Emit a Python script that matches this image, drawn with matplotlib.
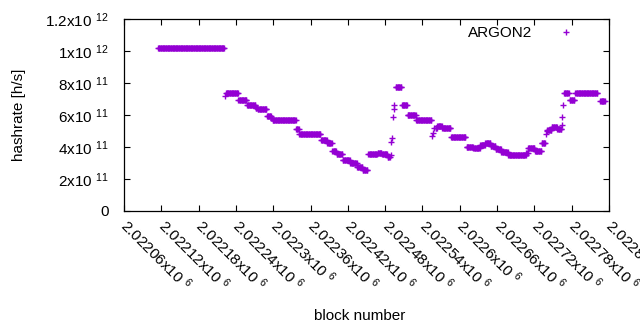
import numpy as np
import matplotlib
matplotlib.use('Agg')
import matplotlib.pyplot as plt
from matplotlib.transforms import ScaledTranslation

plt.rcParams['font.family'] = ['Liberation Sans', 'DejaVu Sans']
plt.rcParams['mathtext.fontset'] = 'custom'
plt.rcParams['mathtext.rm'] = 'Liberation Sans'
plt.rcParams['mathtext.it'] = 'Liberation Sans'
plt.rcParams['mathtext.bf'] = 'Liberation Sans'
plt.rcParams['mathtext.default'] = 'regular'

# Runs of blocks with a constant hashrate: first block, last block, hashrate [h/s]
seg_start = [2022115, 2022224, 2022244, 2022258, 2022272, 2022275, 2022290, 2022297,
             2022299, 2022337, 2022342, 2022377, 2022387, 2022395, 2022402, 2022412,
             2022424, 2022435, 2022444, 2022453, 2022468, 2022475, 2022484, 2022497,
             2022507, 2022516, 2022530, 2022561, 2022564, 2022572, 2022586, 2022611,
             2022622, 2022633, 2022641, 2022650, 2022658, 2022667, 2022678, 2022707,
             2022710, 2022721, 2022732, 2022741, 2022748, 2022757, 2022768, 2022777,
             2022786, 2022826]
seg_end = [2022221, 2022243, 2022257, 2022271, 2022274, 2022289, 2022296, 2022298,
           2022336, 2022341, 2022376, 2022386, 2022394, 2022401, 2022411, 2022423,
           2022434, 2022443, 2022451, 2022467, 2022474, 2022483, 2022487, 2022506,
           2022515, 2022529, 2022554, 2022563, 2022571, 2022585, 2022609, 2022621,
           2022632, 2022640, 2022649, 2022657, 2022666, 2022677, 2022706, 2022709,
           2022720, 2022731, 2022737, 2022747, 2022756, 2022763, 2022775, 2022784,
           2022821, 2022833]
seg_value = [1.016e12, 0.735e12, 0.694e12, 0.660e12, 0.646e12, 0.636e12, 0.594e12, 0.579e12,
             0.567e12, 0.512e12, 0.479e12, 0.444e12, 0.425e12, 0.377e12, 0.357e12, 0.318e12,
             0.298e12, 0.278e12, 0.259e12, 0.354e12, 0.364e12, 0.354e12, 0.335e12, 0.773e12,
             0.660e12, 0.600e12, 0.567e12, 0.519e12, 0.531e12, 0.519e12, 0.4625e12, 0.400e12,
             0.395e12, 0.413e12, 0.427e12, 0.405e12, 0.387e12, 0.367e12, 0.348e12, 0.360e12,
             0.396e12, 0.377e12, 0.425e12, 0.506e12, 0.522e12, 0.510e12, 0.735e12, 0.694e12,
             0.735e12, 0.6875e12]

# Isolated blocks (transitions)
pt_block = [2022223, 2022489, 2022490, 2022491, 2022493, 2022494, 2022495,
            2022556, 2022557, 2022559, 2022738, 2022740, 2022764, 2022765, 2022766]
pt_value = [0.717e12, 0.350e12, 0.433e12, 0.455e12, 0.586e12, 0.636e12, 0.662e12,
            0.469e12, 0.489e12, 0.517e12, 0.480e12, 0.498e12, 0.5375e12, 0.590e12, 0.660e12]

xticks = [2022060, 2022120, 2022180, 2022240, 2022300, 2022360, 2022420,
          2022480, 2022540, 2022600, 2022660, 2022720, 2022780, 2022840]
xtick_labels = ['2.02206', '2.02212', '2.02218', '2.02224', '2.0223', '2.02236', '2.02242',
                '2.02248', '2.02254', '2.0226', '2.02266', '2.02272', '2.02278', '2.02284']
yticks = [0, 2e11, 4e11, 6e11, 8e11, 1e12, 1.2e12]
ytick_mant = ['0', '2', '4', '6', '8', '1', '1.2']
ytick_exp = ['', '11', '11', '11', '11', '12', '12']

blocks = np.concatenate([np.arange(s, e + 1) for s, e in zip(seg_start, seg_end)]
                        + [np.array(pt_block)])
values = np.concatenate([np.full(e - s + 1, v) for s, e, v in zip(seg_start, seg_end, seg_value)]
                        + [np.array(pt_value)])

W, H = 640, 330
fig = plt.figure(figsize=(W / 100, H / 100), dpi=100)
ax = fig.add_axes([124 / W, (H - 211) / H, 485 / W, 192 / H])

color = '#9400d3'
ax.plot(blocks, values, linestyle='none', marker='+', markersize=5, markeredgewidth=1.0,
        color=color, label='ARGON2')

ax.set_xlim(2022060, 2022840)
ax.set_ylim(0, 1.2e12)

fs = 11
ax.set_yticks(yticks)
ax.set_yticklabels([m if not e else f'{m}x10 $^{{{e}}}$' for m, e in zip(ytick_mant, ytick_exp)],
                   fontsize=fs)
ax.set_xticks(xticks)
ax.set_xticklabels([f'{l}x10 $^{{6}}$' for l in xtick_labels], fontsize=fs,
                   rotation=-45, ha='left', va='center', rotation_mode='anchor')
off = ScaledTranslation(3 / 100, 0, fig.dpi_scale_trans)
for lab in ax.get_xticklabels():
    lab.set_transform(lab.get_transform() + off)

ax.tick_params(axis='both', which='both', direction='in', length=4, width=0.8,
               top=True, right=True, colors='black')
ax.tick_params(axis='y', pad=11)
ax.tick_params(axis='x', pad=8.5)
for sp in ax.spines.values():
    sp.set_linewidth(0.9)

ax.set_ylabel('hashrate [h/s]', fontsize=fs)
ax.yaxis.set_label_coords((26 - 124) / 485, 0.5)
ax.set_xlabel('block number', fontsize=fs)
ax.xaxis.set_label_coords((360 - 124) / 485, -(309 - 211) / 192)

leg = ax.legend(loc='upper right', bbox_to_anchor=((581 - 124) / 485, (211 - 26) / 192),
                frameon=False, markerfirst=False, fontsize=fs, handlelength=2.0,
                handletextpad=1.2, borderpad=0, borderaxespad=0, numpoints=1)

fig.savefig('out.png', dpi=100)
